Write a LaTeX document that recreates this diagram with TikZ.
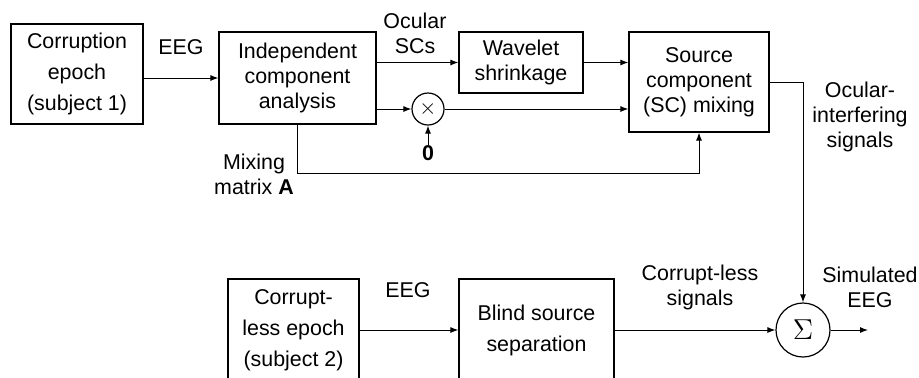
\documentclass[tikz,border=0pt]{standalone}
\usepackage{fontspec}
\setmainfont{Liberation Sans}
\usepackage{tikz}
\usetikzlibrary{arrows.meta,positioning}
\tikzset{
block/.style={draw, line width=0.6pt, align=center, inner sep=0pt}, % the processing boxes
junction/.style={draw, circle, line width=0.6pt, inner sep=0pt}, % product and sum
wire/.style={line width=0.5pt, -{Latex[length=4pt,width=3pt]}}, % signal arrows
lbl/.style={align=center, inner sep=0pt}, % text beside the arrows
every node/.style={font=\fontsize{10.7}{12.5}\selectfont}
}

\begin{document}
\begin{tikzpicture}[x=0.5pt,y=0.5pt]
    \useasboundingbox (0,0) rectangle (919,-377);
    % top chain
    \node[block, minimum width=66pt, minimum height=50pt, font=\fontsize{10.7}{15.5}\selectfont] (corr1) at (77,-74) {Corruption\\epoch\\(subject 1)};
    \node[block, minimum width=78.5pt, minimum height=46pt] (ica) at (297.5,-78) {Independent\\component\\analysis};
    \node[block, minimum width=62pt, minimum height=30.5pt] (wav) at (521,-62.5) {Wavelet\\shrinkage};
    \node[block, minimum width=70pt, minimum height=50pt] (scmix) at (699,-82) {Source\\component\\(SC) mixing};
    \node[junction, minimum size=16pt] (mult) at (428,-109) {$\times$};
    \node[lbl] (zero) at (428,-153) {\textbf{0}};
    % bottom chain
    \node[block, minimum width=65.5pt, minimum height=51pt, font=\fontsize{10.7}{15.5}\selectfont] (corr2) at (293.5,-330) {Corrupt-\\less epoch\\(subject 2)};
    \node[block, minimum width=77.5pt, minimum height=51pt, font=\fontsize{10.7}{15.5}\selectfont] (bss) at (536.5,-330) {Blind source\\separation};
    \node[junction, minimum size=27pt, font=\fontsize{14}{14}\selectfont] (sum) at (803,-330) {$\Sigma$};
    \coordinate (out) at (868,-330);
    % labels
    \node[lbl] (eeg1) at (181,-47) {EEG};
    \node[lbl] (ocsc) at (415,-33) {Ocular\\SCs};
    \node[lbl] (mixa) at (254,-174) {Mixing\\matrix \textbf{A}};
    \node[lbl] (ocint) at (860,-117) {Ocular-\\interfering\\signals};
    \node[lbl] (eeg2) at (408,-290) {EEG};
    \node[lbl] (clsig) at (700,-287) {Corrupt-less\\signals};
    \node[lbl] (simeeg) at (870,-287) {Simulated\\EEG};
    % connectors
    \draw[wire] (corr1.east |- ica.west) -- (ica.west);
    \draw[wire] (ica.east |- wav.west) -- (wav.west);
    \draw[wire] (wav.east) -- (scmix.west |- wav.east);
    \draw[wire] (ica.east |- mult.west) -- (mult.west);
    \draw[wire] (mult.east) -- (scmix.west |- mult.east);
    \draw[wire] (zero.north) -- (mult.south);
    \draw[wire] (ica.south) -- ++(0,-49) -| (scmix.south);
    \draw[wire] (scmix.east) -| (sum.north);
    \draw[wire] (corr2.east) -- (bss.west);
    \draw[wire] (bss.east) -- (sum.west);
    \draw[wire] (sum.east) -- (out);
\end{tikzpicture}
\end{document}
